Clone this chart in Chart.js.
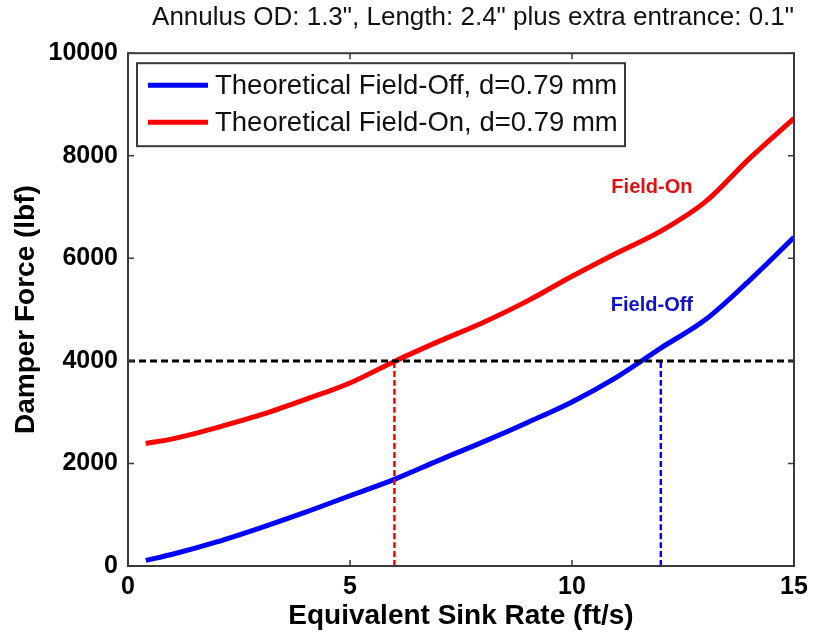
<!DOCTYPE html>
<html>
<head>
<meta charset="utf-8">
<script src="https://cdn.jsdelivr.net/npm/chart.js@4.4.1/dist/chart.umd.min.js"></script>
<style>
  html, body { margin: 0; padding: 0; background: #fff; }
  #wrap { width: 814px; height: 635px; }
</style>
</head>
<body>
<div id="wrap"><canvas id="chart" width="814" height="635"></canvas></div>
<script>
// values
const sinkRate = [0.4, 1, 2, 3, 4, 5, 6, 7, 8, 9, 10, 11, 12, 13, 14, 15];
const forceFieldOff = [110, 230, 470, 750, 1050, 1370, 1690, 2060, 2420, 2800, 3200, 3680, 4250, 4800, 5570, 6410];
const forceFieldOn = [2390, 2480, 2700, 2950, 3250, 3570, 3990, 4380, 4750, 5170, 5650, 6100, 6530, 7100, 7950, 8730];

const forceLimit = 4000;
const sinkAtLimitOn = 6;
const sinkAtLimitOff = 12;

const xTickValues = [0, 5, 10, 15];
const yTickValues = [0, 2000, 4000, 6000, 8000, 10000];

const seriesLabels = ["Theoretical Field-Off, d=0.79 mm", "Theoretical Field-On, d=0.79 mm"];
const curveNotes = [
  { text: "Field-On", x: 11.8, y: 7390, color: "#e01010" },
  { text: "Field-Off", x: 11.8, y: 5090, color: "#1010d0" }
];

const toPoints = (xs, ys) => xs.map((x, i) => ({ x: x, y: ys[i] }));

// border, inward ticks, legend box and the curve notes
const matlabFrame = {
  id: "matlabFrame",
  afterDatasetsDraw(chart) {
    const { ctx, chartArea: a, scales } = chart;
    ctx.save();
    ctx.strokeStyle = "#3a3a3a";
    ctx.lineWidth = 2;
    ctx.strokeRect(a.left, a.top, a.right - a.left, a.bottom - a.top);

    ctx.lineWidth = 1.5;
    const tl = 6;
    xTickValues.forEach(v => {
      const px = scales.x.getPixelForValue(v);
      ctx.beginPath();
      ctx.moveTo(px, a.bottom); ctx.lineTo(px, a.bottom - tl);
      ctx.moveTo(px, a.top); ctx.lineTo(px, a.top + tl);
      ctx.stroke();
    });
    yTickValues.forEach(v => {
      const py = scales.y.getPixelForValue(v);
      ctx.beginPath();
      ctx.moveTo(a.left, py); ctx.lineTo(a.left + tl, py);
      ctx.moveTo(a.right, py); ctx.lineTo(a.right - tl, py);
      ctx.stroke();
    });

    // legend
    const bx = a.left + 9, by = a.top + 10, bw = 488, bh = 83;
    ctx.fillStyle = "#fff";
    ctx.fillRect(bx, by, bw, bh);
    ctx.strokeStyle = "#3a3a3a";
    ctx.lineWidth = 2;
    ctx.strokeRect(bx, by, bw, bh);
    ctx.font = "27.5px 'Liberation Sans', Arial, sans-serif";
    ctx.textBaseline = "middle";
    [0, 1].forEach(i => {
      const ds = chart.data.datasets[i];
      const ry = by + 22 + i * 37;
      ctx.strokeStyle = ds.borderColor;
      ctx.lineWidth = 5;
      ctx.beginPath();
      ctx.moveTo(bx + 11, ry); ctx.lineTo(bx + 71, ry);
      ctx.stroke();
      ctx.fillStyle = "#111";
      ctx.fillText(ds.label, bx + 78, ry + 1);
    });

    ctx.font = "bold 20px 'Liberation Sans', Arial, sans-serif";
    ctx.textAlign = "center";
    curveNotes.forEach(n => {
      ctx.fillStyle = n.color;
      ctx.fillText(n.text, scales.x.getPixelForValue(n.x), scales.y.getPixelForValue(n.y));
    });
    ctx.restore();
  }
};

const tickFont = { family: "'Liberation Sans', Arial, sans-serif", size: 25, weight: "bold" };
const titleFont = { family: "'Liberation Sans', Arial, sans-serif", size: 28, weight: "bold" };

new Chart(document.getElementById("chart"), {
  type: "line",
  data: {
    datasets: [
      { label: seriesLabels[0], data: toPoints(sinkRate, forceFieldOff), borderColor: "#0000ff", borderWidth: 5, order: 1 },
      { label: seriesLabels[1], data: toPoints(sinkRate, forceFieldOn), borderColor: "#ff0000", borderWidth: 5, order: 1 },
      { data: [{ x: 0, y: forceLimit }, { x: 15, y: forceLimit }], borderColor: "#000", borderWidth: 3, borderDash: [7, 4], order: 0 },
      { data: [{ x: sinkAtLimitOn, y: 0 }, { x: sinkAtLimitOn, y: forceLimit }], borderColor: "#ff0000", borderWidth: 2.5, borderDash: [6, 3], order: 0 },
      { data: [{ x: sinkAtLimitOff, y: 0 }, { x: sinkAtLimitOff, y: forceLimit }], borderColor: "#0000ff", borderWidth: 2.5, borderDash: [6, 3], order: 0 }
    ]
  },
  options: {
    responsive: false,
    animation: false,
    devicePixelRatio: 1,
    layout: { padding: { top: 0, right: 20, bottom: 0, left: 0 } },
    elements: {
      point: { radius: 0 },
      line: { cubicInterpolationMode: "monotone", fill: false }
    },
    plugins: {
      legend: { display: false },
      tooltip: { enabled: false },
      title: {
        display: true,
        text: "Annulus OD: 1.3\", Length: 2.4\" plus extra entrance: 0.1\"",
        align: "end",
        color: "#111",
        font: { family: "'Liberation Sans', Arial, sans-serif", size: 26, weight: "normal" },
        padding: { top: 2, bottom: 20 }
      }
    },
    scales: {
      x: {
        type: "linear",
        min: 0, max: 15,
        afterBuildTicks: s => { s.ticks = xTickValues.map(v => ({ value: v })); },
        afterFit: s => { s.height = 69; },
        grid: { display: false, drawTicks: false },
        border: { display: false },
        ticks: { color: "#000", font: tickFont, padding: 6, maxRotation: 0 },
        title: { display: true, text: "Equivalent Sink Rate (ft/s)", color: "#000", font: titleFont, padding: { top: 0, bottom: 2 } }
      },
      y: {
        type: "linear",
        min: 0, max: 10000,
        afterBuildTicks: s => { s.ticks = yTickValues.map(v => ({ value: v })); },
        afterFit: s => { s.width = 128; },
        grid: { display: false, drawTicks: false },
        border: { display: false },
        ticks: { color: "#000", font: tickFont, padding: 10, callback: v => String(v) },
        title: { display: true, text: "Damper Force (lbf)", color: "#000", font: titleFont, padding: { top: 9, bottom: 0 } }
      }
    }
  },
  plugins: [matlabFrame]
});
</script>
</body>
</html>
